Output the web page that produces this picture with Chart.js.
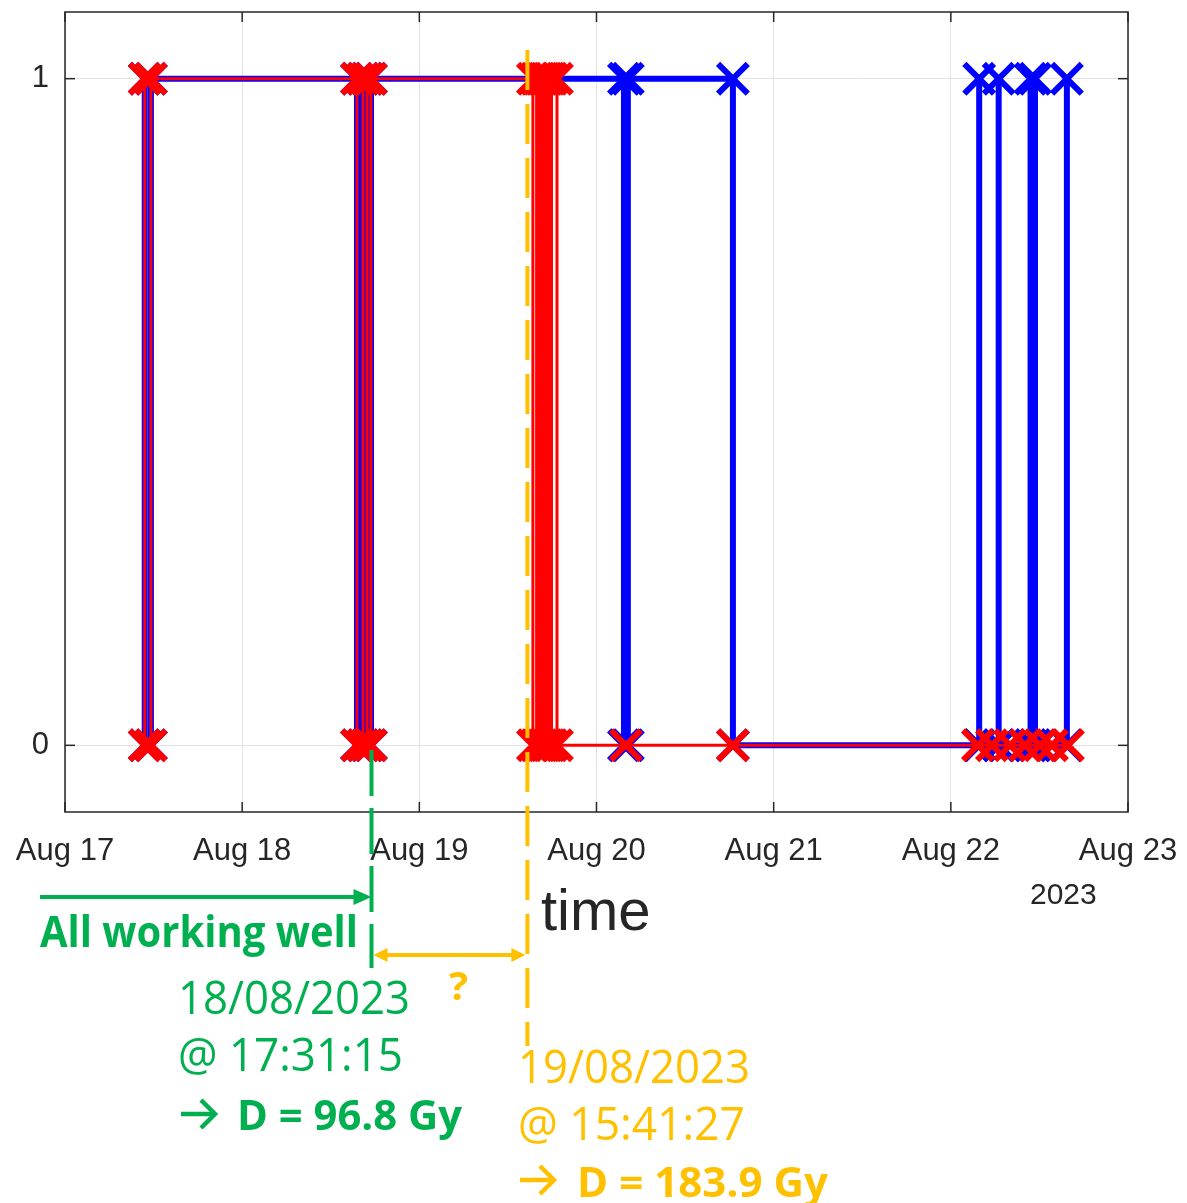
<!DOCTYPE html>
<html>
<head>
<meta charset="utf-8">
<script src="https://cdn.jsdelivr.net/npm/chart.js@4.4.0/dist/chart.umd.min.js"></script>
<style>
  html, body { margin: 0; padding: 0; background: #fff; }
  #caixa { width: 1187px; height: 1203px; position: relative; }
</style>
</head>
<body>
<div id="caixa"><canvas id="grafico"></canvas></div>
<script>
/* Dados: dias de agosto de 2023 (fração do dia), estado 1 = ligado, 0 = desligado */
const diasX = [17, 18, 19, 20, 21, 22, 23]
const valoresY = [0, 1]

const tempoVermelho = [
  17.45, 17.45, 17.485, 17.485,
  18.648, 18.648, 18.682, 18.682, 18.705, 18.705, 18.727, 18.727,
  19.641, 19.641, 19.662, 19.662, 19.676, 19.676, 19.690, 19.690, 19.704, 19.704, 19.718, 19.718, 19.732, 19.732, 19.746, 19.746, 19.777, 19.777,
  20.166, 20.77, 22.153, 22.232, 22.334, 22.419, 22.503, 22.571, 22.661
]
const estadoVermelho = [
  1, 0, 0, 1,
  1, 0, 0, 1, 1, 0, 0, 1,
  1, 0, 0, 1, 1, 0, 0, 1, 1, 0, 0, 1, 1, 0, 0, 1, 1, 0,
  0, 0, 0, 0, 0, 0, 0, 0, 0
]

const tempoAzul = [
  17.45, 17.45, 17.485, 17.485,
  18.648, 18.648, 18.682, 18.682, 18.705, 18.705, 18.727, 18.727,
  20.155, 20.155, 20.177, 20.177,
  20.77, 20.77,
  22.16, 22.16, 22.16, 22.27, 22.27, 22.27, 22.45, 22.45, 22.45, 22.475, 22.475, 22.475, 22.655, 22.655
]
const estadoAzul = [
  1, 0, 0, 1,
  1, 0, 0, 1, 1, 0, 0, 1,
  1, 0, 0, 1,
  1, 0,
  0, 1, 0, 0, 1, 0, 0, 1, 0, 0, 1, 0, 0, 1
]

/* Marcações (dias) */
const diaVerde = 18.73    // 18/08/2023 17:31:15
const diaAmarelo = 19.61  // 19/08/2023 15:41:27

const verde = '#00b050'
const amarelo = '#ffc000'
const cinza = '#262626'

function pontos(tempos, estados){
    return tempos.map((t, i) => ({x: t, y: estados[i]}))
}

/* funções de desenho das anotações */
function linha(ctx, x1, y1, x2, y2){
    ctx.beginPath()
    ctx.moveTo(x1, y1)
    ctx.lineTo(x2, y2)
    ctx.stroke()
}

function ponta(ctx, x, y, dir, comp, larg){
    ctx.beginPath()
    ctx.moveTo(x, y)
    ctx.lineTo(x - dir * comp, y - larg)
    ctx.lineTo(x - dir * comp, y + larg)
    ctx.closePath()
    ctx.fill()
}

function chevron(ctx, x, y, cor){
    ctx.strokeStyle = cor
    ctx.lineWidth = 4.5
    ctx.lineCap = 'butt'
    linha(ctx, x, y, x + 33, y)
    ctx.beginPath()
    ctx.moveTo(x + 20, y - 14)
    ctx.lineTo(x + 34, y)
    ctx.lineTo(x + 20, y + 14)
    ctx.stroke()
}

function texto(ctx, str, x, y, largura, tam, peso, cor, fam){
    ctx.font = `${peso} ${tam}px ${fam || '"Open Sans"'}`
    ctx.fillStyle = cor
    ctx.textBaseline = 'alphabetic'
    ctx.textAlign = 'left'
    const w = ctx.measureText(str).width
    ctx.save()
    ctx.translate(x, y)
    if (largura) ctx.scale(largura / w, 1)
    ctx.fillText(str, 0, 0)
    ctx.restore()
}

const anotacoes = {
    id: 'anotacoes',
    afterDraw(chart){
        const {ctx, chartArea: a, scales: {x, y}} = chart
        ctx.save()

        // caixa e marcas internas (estilo MATLAB)
        ctx.strokeStyle = cinza
        ctx.lineWidth = 1.5
        ctx.strokeRect(a.left, a.top, a.right - a.left, a.bottom - a.top)
        diasX.forEach(d => {
            const px = x.getPixelForValue(d)
            linha(ctx, px, a.bottom, px, a.bottom - 10)
            linha(ctx, px, a.top, px, a.top + 10)
        })
        valoresY.forEach(v => {
            const py = y.getPixelForValue(v)
            linha(ctx, a.left, py, a.left + 10, py)
            linha(ctx, a.right, py, a.right - 10, py)
        })

        // linha tracejada amarela
        const xa = x.getPixelForValue(diaAmarelo)
        ctx.strokeStyle = amarelo
        ctx.lineWidth = 4
        ctx.setLineDash([40, 14])
        linha(ctx, xa, 50, xa, 1046)

        // linha tracejada verde
        const xv = x.getPixelForValue(diaVerde)
        ctx.strokeStyle = verde
        ctx.setLineDash([46, 12])
        linha(ctx, xv, 750, xv, 968)
        ctx.setLineDash([])

        // seta verde
        ctx.lineWidth = 4
        ctx.fillStyle = verde
        linha(ctx, 40, 897, xv - 14, 897)
        ponta(ctx, xv, 897, 1, 18, 8)

        // seta dupla amarela
        ctx.strokeStyle = amarelo
        ctx.fillStyle = amarelo
        linha(ctx, xv + 12, 955, xa - 12, 955)
        ponta(ctx, xv + 2, 955, -1, 14, 7)
        ponta(ctx, xa - 2, 955, 1, 14, 7)

        // textos verdes
        texto(ctx, 'All working well', 40, 947, 318, 43, 'bold', verde)
        texto(ctx, '18/08/2023', 178, 1014, 232, 45, 'normal', verde)
        texto(ctx, '@ 17:31:15', 178, 1071, 225, 45, 'normal', verde)
        chevron(ctx, 181, 1114, verde)
        texto(ctx, 'D = 96.8 Gy', 237, 1130, 225, 42, 'bold', verde)

        // textos amarelos
        texto(ctx, '?', 449, 1000, null, 40, 'bold', amarelo)
        texto(ctx, '19/08/2023', 518, 1083, 232, 45, 'normal', amarelo)
        texto(ctx, '@ 15:41:27', 518, 1140, 227, 45, 'normal', amarelo)
        chevron(ctx, 520, 1180, amarelo)
        texto(ctx, 'D = 183.9 Gy', 577, 1197, 251, 42, 'bold', amarelo)

        // rótulos do eixo
        texto(ctx, '2023', 1030, 904, null, 30, 'normal', cinza, '"Liberation Sans"')
        texto(ctx, 'time', 541, 930, null, 58, 'normal', cinza, '"Liberation Sans"')

        ctx.restore()
    }
}

/* zera o espaço extra que o Chart.js reserva para os rótulos */
function semFolga(s){
    s.paddingLeft = 0
    s.paddingRight = 0
    s.paddingTop = 0
    s.paddingBottom = 0
}

const grafico = document.getElementById('grafico')
const graficoEstados = new Chart(grafico, {
    type: 'scatter',
    data: {
      datasets: [{
        label: 'vermelho',
        data: pontos(tempoVermelho, estadoVermelho),
        showLine: true,
        borderColor: '#ff0000',
        borderWidth: 3,
        pointStyle: 'crossRot',
        pointRadius: 21,
        pointBorderWidth: 6,
        pointBorderColor: '#ff0000',
        pointBackgroundColor: '#ff0000'
      }, {
        label: 'azul',
        data: pontos(tempoAzul, estadoAzul),
        showLine: true,
        borderColor: '#0000ff',
        borderWidth: 6,
        pointStyle: 'crossRot',
        pointRadius: 21,
        pointBorderWidth: 6,
        pointBorderColor: '#0000ff',
        pointBackgroundColor: '#0000ff'
      }]
    },
    options: {
      responsive: true,
      maintainAspectRatio: false,
      animation: false,
      layout: { autoPadding: false, padding: { top: 12, right: 59, left: 0, bottom: 0 } },
      plugins: { legend: { display: false }, tooltip: { enabled: false } },
      scales: {
        x: {
          type: 'linear',
          min: 17,
          max: 23,
          afterFit: s => { s.height = 1203 - 812; semFolga(s) },
          afterBuildTicks: s => { s.ticks = diasX.map(v => ({value: v})) },
          grid: { color: '#e3e3e3', lineWidth: 1, drawTicks: false },
          border: { display: false },
          ticks: {
            padding: 21,
            color: cinza,
            font: { family: '"Liberation Sans"', size: 31 },
            maxRotation: 0,
            callback: v => 'Aug ' + v
          }
        },
        y: {
          min: -0.1,
          max: 1.1,
          afterFit: s => { s.width = 65; semFolga(s) },
          afterBuildTicks: s => { s.ticks = valoresY.map(v => ({value: v})) },
          grid: { color: '#e3e3e3', lineWidth: 1, drawTicks: false },
          border: { display: false },
          ticks: {
            padding: 16,
            color: cinza,
            font: { family: '"Liberation Sans"', size: 31 },
            callback: v => String(v)
          }
        }
      }
    },
    plugins: [anotacoes]
});
</script>
</body>
</html>
